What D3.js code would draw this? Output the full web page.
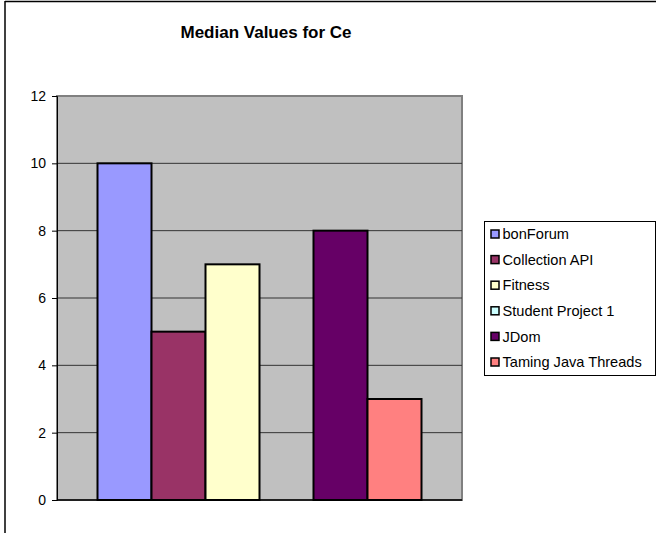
<!DOCTYPE html>
<html>
<head>
<meta charset="utf-8">
<script src="https://cdn.jsdelivr.net/npm/d3@7"></script>
<style>
  html, body { margin: 0; padding: 0; background: #fff; }
  svg { display: block; font-family: "Liberation Sans", Arial, Helvetica, sans-serif; }
</style>
</head>
<body>
<svg id="chart" width="656" height="533"></svg>
<script>
// Series of the single category, one bar each
const seriesNames = ["bonForum", "Collection API", "Fitness", "Student Project 1", "JDom", "Taming Java Threads"];
const seriesValues = [10, 5, 7, 0, 8, 3];
const seriesColors = ["#9999FF", "#993366", "#FFFFCC", "#CCFFFF", "#660066", "#FF8080"];
const yTicks = [0, 2, 4, 6, 8, 10, 12];
const chartTitle = "Median Values for Ce";

const svg = d3.select("#chart");

// Outer chart frame (left and top edges show)
svg.append("line").attr("x1", 5).attr("x2", 5).attr("y1", 1).attr("y2", 533)
  .attr("stroke", "#000").attr("stroke-width", 1.5);
svg.append("line").attr("x1", 5).attr("x2", 656).attr("y1", 1.5).attr("y2", 1.5)
  .attr("stroke", "#000").attr("stroke-width", 1.5);

// Title
svg.append("text")
  .attr("x", 266).attr("y", 38)
  .attr("text-anchor", "middle")
  .attr("font-size", 17).attr("font-weight", "bold")
  .text(chartTitle);

const plot = { left: 57, right: 462, top: 96, bottom: 500 };

const y = d3.scaleLinear().domain([0, 12]).range([plot.bottom, plot.top]);
// Bars share one category; Excel-style gap width of 150%
const x = d3.scaleBand().domain(seriesNames)
  .range([plot.left, plot.right]).paddingOuter(0.75).paddingInner(0);

// Plot background
svg.append("rect")
  .attr("x", plot.left).attr("y", plot.top)
  .attr("width", plot.right - plot.left).attr("height", plot.bottom - plot.top)
  .attr("fill", "#C0C0C0").attr("stroke", "#808080").attr("stroke-width", 2);

// Horizontal gridlines
svg.append("g").selectAll("line")
  .data(yTicks.filter(t => t > 0 && t < 12))
  .join("line")
  .attr("x1", plot.left).attr("x2", plot.right)
  .attr("y1", d => y(d)).attr("y2", d => y(d))
  .attr("stroke", "#333").attr("stroke-width", 1);

// Bars
svg.append("g").selectAll("rect")
  .data(seriesNames.map((n, i) => ({ name: n, value: seriesValues[i], color: seriesColors[i] })))
  .join("rect")
  .attr("x", d => x(d.name))
  .attr("y", d => y(d.value))
  .attr("width", x.bandwidth())
  .attr("height", d => y(0) - y(d.value))
  .attr("fill", d => d.color)
  .attr("stroke", "#000").attr("stroke-width", 2);

// Y axis
const yAxis = d3.axisLeft(y).tickValues(yTicks).tickSize(5).tickPadding(6).tickFormat(d3.format("d"));
const gy = svg.append("g").attr("transform", `translate(${plot.left},0)`).call(yAxis);
gy.select(".domain").attr("stroke", "#000").attr("stroke-width", 1);
gy.selectAll(".tick line").attr("stroke", "#000");
gy.selectAll(".tick text").attr("font-size", 14).attr("fill", "#000")
  .attr("font-family", "Liberation Sans, Arial, sans-serif");

// X axis baseline
svg.append("line")
  .attr("x1", plot.left).attr("x2", plot.right)
  .attr("y1", y(0)).attr("y2", y(0))
  .attr("stroke", "#000").attr("stroke-width", 1.5);

// Legend
const legend = svg.append("g");
legend.append("rect")
  .attr("x", 484.5).attr("y", 221.5).attr("width", 171).attr("height", 154)
  .attr("fill", "#fff").attr("stroke", "#000").attr("stroke-width", 1);
const item = legend.selectAll("g.item")
  .data(seriesNames.map((n, i) => ({ name: n, color: seriesColors[i] })))
  .join("g").attr("class", "item")
  .attr("transform", (d, i) => `translate(491, ${234 + i * 25.6})`);
item.append("rect")
  .attr("x", 0).attr("y", -4).attr("width", 8).attr("height", 8)
  .attr("fill", d => d.color).attr("stroke", "#000").attr("stroke-width", 1.5);
item.append("text")
  .attr("x", 11.5).attr("y", 0).attr("dy", "0.36em")
  .attr("font-size", 14.6)
  .text(d => d.name);
</script>
</body>
</html>
